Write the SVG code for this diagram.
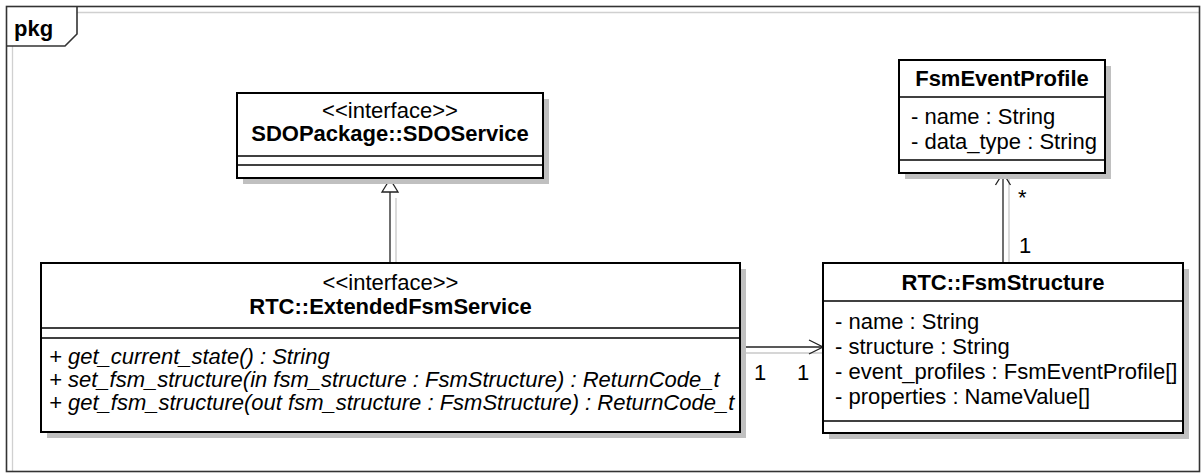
<svg xmlns="http://www.w3.org/2000/svg" width="1201" height="474" viewBox="0 0 1201 474">
<style>
text{font-family:"Liberation Sans",Arial,sans-serif;font-size:22px;fill:#000}
.b{font-weight:bold}
.i{font-style:italic}
.c{text-anchor:middle}
.box{fill:#fff;stroke:#000;stroke-width:2}
.sh{fill:#c0c0c0}
.sep{stroke:#000;stroke-width:1.3}
.ln{stroke:#222;stroke-width:1.3;fill:none}
.lsh{stroke:#c8c8c8;stroke-width:1.3;fill:none}
</style>
<rect width="1201" height="474" fill="#fff"/>
<g id="frame">
<line x1="77" y1="12.5" x2="1200" y2="12.5" stroke="#d0d0d0" stroke-width="1.3"/>
<line x1="12.5" y1="46" x2="12.5" y2="472" stroke="#d0d0d0" stroke-width="1.3"/>
<rect x="6.5" y="6.5" width="1193" height="465" fill="none" stroke="#333" stroke-width="1.6"/>
<polyline points="6.5,46 65,46 77,34 77,6.5" fill="none" stroke="#333" stroke-width="1.6"/>
<text x="14" y="36" class="b">pkg</text>
</g>
<g id="connectors">
<line class="lsh" x1="396" y1="198" x2="396" y2="269"/>
<line class="ln" x1="390" y1="192" x2="390" y2="263"/>
<polygon points="390,179 382,192 398,192" fill="#fff" stroke="#222" stroke-width="1.3"/>
<line class="lsh" x1="746" y1="353" x2="830" y2="353"/>
<line class="ln" x1="740" y1="347" x2="823" y2="347"/>
<polyline class="ln" points="809,340 823,347 809,354"/>
<line class="lsh" x1="1009" y1="179" x2="1009" y2="269"/>
<line class="ln" x1="1003" y1="173" x2="1003" y2="263"/>
<polyline class="ln" points="995.5,185 1003,173 1010.5,185"/>
<text x="754" y="380">1</text>
<text x="797" y="380">1</text>
<text x="1018" y="205">*</text>
<text x="1019" y="253">1</text>
</g>
<g id="SDOService">
<rect class="sh" x="243" y="99" width="306" height="85"/>
<rect class="box" x="237" y="93" width="306" height="85"/>
<line class="sep" x1="237" y1="156" x2="543" y2="156"/>
<line class="sep" x1="237" y1="165" x2="543" y2="165"/>
<text x="390" y="118" class="c">&lt;&lt;interface&gt;&gt;</text>
<text x="390" y="141" class="c b">SDOPackage::SDOService</text>
</g>
<g id="ExtendedFsmService">
<rect class="sh" x="47" y="269" width="699" height="169"/>
<rect class="box" x="41" y="263" width="699" height="169"/>
<line class="sep" x1="41" y1="328" x2="740" y2="328"/>
<line class="sep" x1="41" y1="338" x2="740" y2="338"/>
<text x="390.5" y="290" class="c">&lt;&lt;interface&gt;&gt;</text>
<text x="390.5" y="314" class="c b">RTC::ExtendedFsmService</text>
<text x="49" y="364" class="i">+ get_current_state() : String</text>
<text x="49" y="387" class="i">+ set_fsm_structure(in fsm_structure : FsmStructure) : ReturnCode_t</text>
<text x="49" y="410" class="i">+ get_fsm_structure(out fsm_structure : FsmStructure) : ReturnCode_t</text>
</g>
<g id="FsmStructure">
<rect class="sh" x="829" y="269" width="360" height="170"/>
<rect class="box" x="823" y="263" width="360" height="170"/>
<line class="sep" x1="823" y1="301" x2="1183" y2="301"/>
<line class="sep" x1="823" y1="421" x2="1183" y2="421"/>
<text x="1003" y="290" class="c b">RTC::FsmStructure</text>
<text x="835" y="329">- name : String</text>
<text x="835" y="354">- structure : String</text>
<text x="835" y="379">- event_profiles : FsmEventProfile[]</text>
<text x="835" y="404">- properties : NameValue[]</text>
</g>
<g id="FsmEventProfile">
<rect class="sh" x="905" y="66" width="206" height="113"/>
<rect class="box" x="899" y="60" width="206" height="113"/>
<line class="sep" x1="899" y1="97" x2="1105" y2="97"/>
<line class="sep" x1="899" y1="160" x2="1105" y2="160"/>
<text x="1002" y="86" class="c b">FsmEventProfile</text>
<text x="911" y="124">- name : String</text>
<text x="911" y="149">- data_type : String</text>
</g>
</svg>
